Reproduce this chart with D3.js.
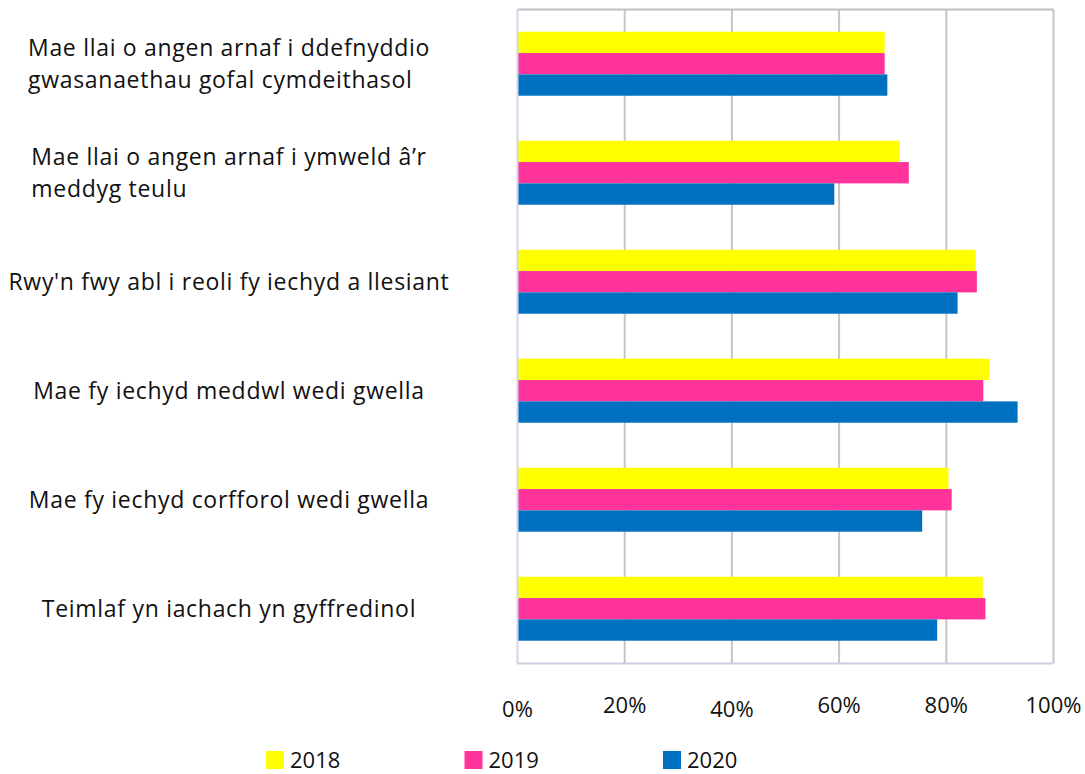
<!DOCTYPE html>
<html>
<head>
<meta charset="utf-8">
<script src="https://cdn.jsdelivr.net/npm/d3@7"></script>
<style>
  body { margin: 0; background: #fff; }
  svg { display: block; font-family: 'Open Sans', sans-serif; }
</style>
</head>
<body>
<div id="chart"></div>
<script>
// chart data
var categories = [
    'Mae llai o angen arnaf i ddefnyddio\ngwasanaethau gofal cymdeithasol',
    'Mae llai o angen arnaf i ymweld â’r\nmeddyg teulu',
    "Rwy'n fwy abl i reoli fy iechyd a llesiant",
    'Mae fy iechyd meddwl wedi gwella',
    'Mae fy iechyd corfforol wedi gwella',
    'Teimlaf yn iachach yn gyffredinol'
];
var seriesNames = ['2018', '2019', '2020'];
var values2018 = [68.5, 71.3, 85.5, 88.0, 80.4, 86.8];
var values2019 = [68.5, 73.0, 85.7, 86.9, 81.0, 87.3];
var values2020 = [69.0, 59.1, 82.1, 93.3, 75.5, 78.3];
var tickValues = [0, 20, 40, 60, 80, 100];
var tickLabels = ['0%', '20%', '40%', '60%', '80%', '100%'];

var colors = { '2018': '#ffff00', '2019': '#ff3399', '2020': '#0070c0' };

var width = 1085;
var height = 774;
var plotLeft = 517.5, plotRight = 1053.5, plotTop = 9.5, plotBottom = 663.5;
var labelCenter = 229;
var fontSize = 22;

var xScale = d3.scaleLinear()
    .domain([0, 100])
    .range([plotLeft, plotRight]);

var yScale = d3.scaleBand()
    .domain(categories)
    .range([plotTop, plotBottom])
    .padding(0);

var subScale = d3.scaleBand()
    .domain(seriesNames)
    .range([yScale.bandwidth() * 0.204, yScale.bandwidth() * 0.791])
    .padding(0);

var svg = d3.select('#chart')
    .append('svg')
    .attr('width', width)
    .attr('height', height);

// gridlines
svg.append('g')
    .attr('class', 'grid')
    .selectAll('line')
    .data(tickValues.slice(1))
    .enter()
    .append('line')
    .attr('x1', function (d) { return xScale(d); })
    .attr('x2', function (d) { return xScale(d); })
    .attr('y1', plotTop)
    .attr('y2', plotBottom)
    .attr('stroke', '#c6c6c6')
    .attr('stroke-width', 2);

// plot border top
svg.append('line')
    .attr('x1', plotLeft).attr('x2', plotRight)
    .attr('y1', plotTop).attr('y2', plotTop)
    .attr('stroke', '#c0c0c0').attr('stroke-width', 2);

// bottom line (lavender tint)
svg.append('line')
    .attr('x1', plotLeft).attr('x2', plotRight)
    .attr('y1', plotBottom).attr('y2', plotBottom)
    .attr('stroke', '#cdcde0').attr('stroke-width', 2);

var rows = categories.map(function (c, i) {
    return { cat: c, values: [values2018[i], values2019[i], values2020[i]] };
});

var groups = svg.append('g')
    .attr('class', 'bars')
    .selectAll('g')
    .data(rows)
    .enter()
    .append('g')
    .attr('transform', function (d) { return 'translate(0,' + yScale(d.cat) + ')'; });

groups.selectAll('rect')
    .data(function (d) {
        return seriesNames.map(function (s, j) { return { series: s, value: d.values[j] }; });
    })
    .enter()
    .append('rect')
    .attr('x', xScale(0))
    .attr('y', function (d) { return subScale(d.series); })
    .attr('width', function (d) { return xScale(d.value) - xScale(0); })
    .attr('height', subScale.bandwidth())
    .attr('fill', function (d) { return colors[d.series]; });

svg.append('line')
    .attr('x1', plotLeft).attr('x2', plotLeft)
    .attr('y1', plotTop).attr('y2', plotBottom)
    .attr('stroke', '#d4d4ec').attr('stroke-width', 2);

// category labels, block centred, lines left aligned
var labels = svg.append('g').attr('class', 'cat-labels');
categories.forEach(function (c) {
    var lines = c.split('\n');
    var t = labels.append('text')
        .attr('font-size', 23)
        .attr('letter-spacing', 0.7)
        .attr('fill', '#111');
    var lineGap = 31.5;
    var y0 = yScale(c) + yScale.bandwidth() / 2 - (lines.length - 1) * lineGap / 2;
    lines.forEach(function (line, k) {
        t.append('tspan')
            .attr('y', y0 + k * lineGap)
            .attr('dy', '0.35em')
            .text(line);
    });
    var maxW = 0;
    t.selectAll('tspan').each(function () {
        maxW = Math.max(maxW, this.getComputedTextLength());
    });
    t.selectAll('tspan').attr('x', labelCenter - maxW / 2);
});

// x tick labels, staggered like the original
svg.append('g')
    .attr('class', 'x-labels')
    .selectAll('text')
    .data(tickValues)
    .enter()
    .append('text')
    .attr('x', function (d) { return xScale(d); })
    .attr('y', function (d, i) { return (i === 0 || i === 2) ? 717 : 712.5; })
    .attr('text-anchor', 'middle')
    .attr('font-size', fontSize)
    .attr('fill', '#111')
    .text(function (d, i) { return tickLabels[i]; });

// legend
var legendX = d3.scalePoint()
    .domain(seriesNames)
    .range([266, 663]);

var legend = svg.append('g').attr('class', 'legend');
legend.selectAll('rect')
    .data(seriesNames)
    .enter()
    .append('rect')
    .attr('x', function (d) { return legendX(d); })
    .attr('y', 751)
    .attr('width', 18)
    .attr('height', 18)
    .attr('fill', function (d) { return colors[d]; });

legend.selectAll('text')
    .data(seriesNames)
    .enter()
    .append('text')
    .attr('x', function (d) { return legendX(d) + 24; })
    .attr('y', 768)
    .attr('font-size', fontSize)
    .attr('fill', '#111')
    .text(function (d) { return d; });
</script>
</body>
</html>
